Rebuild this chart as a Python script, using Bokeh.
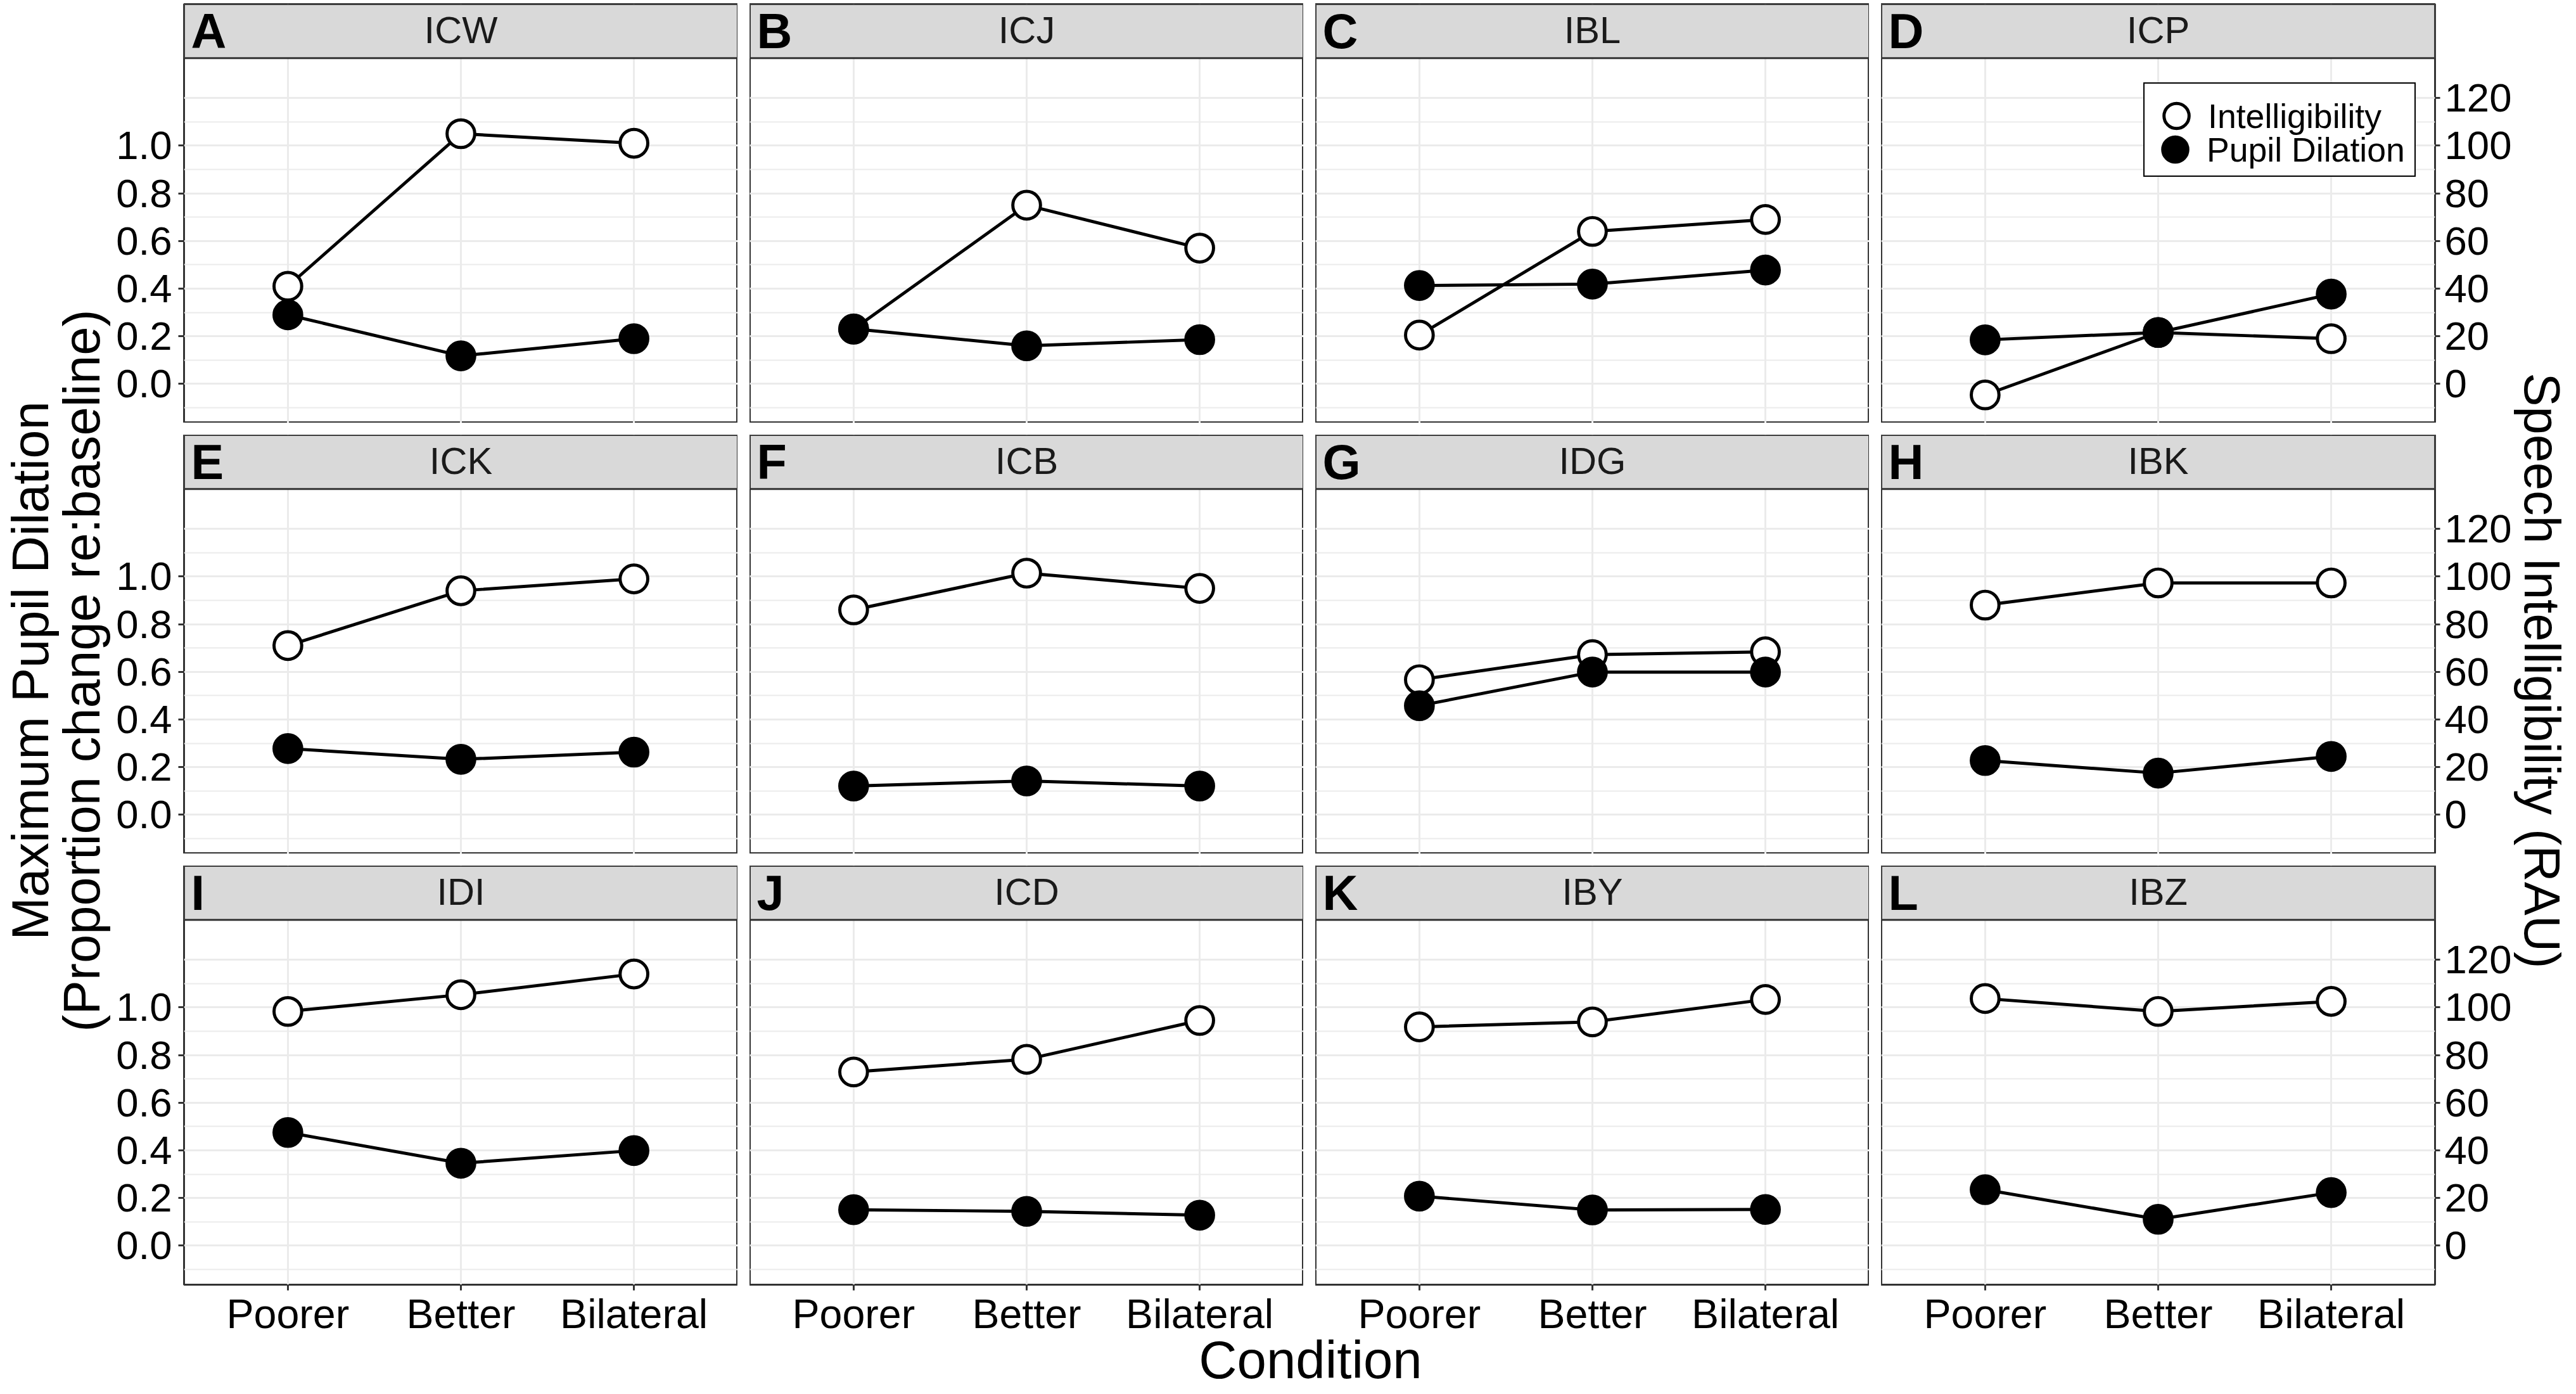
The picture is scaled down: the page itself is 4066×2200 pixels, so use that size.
import math
from bokeh.plotting import figure
from bokeh.models import (Range1d, FixedTicker, LinearAxis, BoxAnnotation, Label,
                          Legend, LegendItem, ColumnDataSource, NumeralTickFormatter)
from bokeh.layouts import row, column
from bokeh.embed import file_html
from bokeh.resources import INLINE

# ---------------- data ----------------
conditions = ["Poorer", "Better", "Bilateral"]
panel_letters = ["A", "B", "C", "D", "E", "F", "G", "H", "I", "J", "K", "L"]
participants = ["ICW", "ICJ", "IBL", "ICP", "ICK", "ICB", "IDG", "IBK", "IDI", "ICD", "IBY", "IBZ"]

# Speech intelligibility (RAU) per participant: Poorer, Better, Bilateral
intelligibility_rau = [
    [41.0, 105.0, 101.0],
    [23.0, 75.0, 57.0],
    [20.5, 64.0, 69.0],
    [-4.6, 21.6, 19.0],
    [71.0, 94.0, 99.0],
    [86.0, 101.4, 95.0],
    [56.7, 67.2, 68.4],
    [88.0, 97.3, 97.3],
    [98.3, 105.3, 114.0],
    [72.9, 78.2, 94.5],
    [91.8, 93.9, 103.3],
    [103.7, 98.3, 102.5],
]
# Maximum pupil dilation (proportion change re: baseline): Poorer, Better, Bilateral
pupil_dilation = [
    [0.290, 0.118, 0.190],
    [0.231, 0.160, 0.186],
    [0.413, 0.419, 0.478],
    [0.185, 0.216, 0.377],
    [0.278, 0.233, 0.263],
    [0.121, 0.142, 0.121],
    [0.458, 0.599, 0.599],
    [0.228, 0.175, 0.245],
    [0.475, 0.346, 0.399],
    [0.151, 0.144, 0.128],
    [0.208, 0.150, 0.152],
    [0.235, 0.111, 0.223],
]
left_ticks = [0.0, 0.2, 0.4, 0.6, 0.8, 1.0]
right_ticks = [0, 20, 40, 60, 80, 100, 120]
grid_major = [0.0, 0.2, 0.4, 0.6, 0.8, 1.0, 1.2]
grid_minor = [-0.1, 0.1, 0.3, 0.5, 0.7, 0.9, 1.1]

# ---------------- geometry ----------------
SX = 0.9955
SY = 0.9927
def PX(v):
    return int(round(v * SX))
def PY(v):
    return int(round(v * SY))
def F(v):
    return f"{v * SY:.1f}px"
def W(v):
    return v * SY

FONT = "Liberation Sans"
Y_LO, Y_PLOT_TOP, Y_HI = -0.1636, 1.3668, 1.5937
X_LO, X_HI = 0.4, 3.6
PXU_Y = 379.0
PXU_X = 274.4
xpos = [i + 1 for i in range(len(conditions))]

def style_axis(ax, tick_out, standoff, size):
    ax.axis_line_color = None
    ax.major_tick_line_color = "#333333"
    ax.major_tick_line_width = W(3)
    ax.major_tick_out = tick_out
    ax.major_tick_in = 0
    ax.minor_tick_line_color = None
    ax.major_label_standoff = standoff
    ax.major_label_text_font = FONT
    ax.major_label_text_font_size = F(size)
    ax.major_label_text_color = "black"

figs = []
for i, name in enumerate(participants):
    r, c = divmod(i, 4)
    p = figure(frame_width=PX(878), frame_height=PY(666),
               x_range=Range1d(X_LO, X_HI), y_range=Range1d(Y_LO, Y_HI),
               x_axis_location="below" if r == 2 else None,
               y_axis_location="left" if c == 0 else None,
               toolbar_location=None, output_backend="svg", tools="", min_border=0)
    p.extra_y_ranges = {"rau": Range1d(Y_LO * 100, Y_HI * 100)}
    p.min_border_left = PX(111) if c == 0 else 0
    p.min_border_right = PX(123) if c == 3 else 0
    p.min_border_top = PY(6) if r == 0 else 0
    p.min_border_bottom = PY(82) if r == 2 else 0
    p.background_fill_color = "white"
    p.border_fill_color = "white"
    p.outline_line_color = "#333333"
    p.outline_line_width = W(3)

    p.xgrid.ticker = FixedTicker(ticks=xpos)
    p.xgrid.grid_line_color = "#ebebeb"
    p.xgrid.grid_line_width = W(3)
    p.ygrid.ticker = FixedTicker(ticks=grid_major, minor_ticks=grid_minor)
    p.ygrid.grid_line_color = "#ebebeb"
    p.ygrid.grid_line_width = W(3)
    p.ygrid.minor_grid_line_color = "#ebebeb"
    p.ygrid.minor_grid_line_width = W(1.8)

    if c == 0:
        ax = p.yaxis[0]
        ax.ticker = FixedTicker(ticks=left_ticks)
        ax.formatter = NumeralTickFormatter(format="0.0")
        style_axis(ax, PX(9), PX(10), 64)
    if r == 2:
        ax = p.xaxis[0]
        ax.ticker = FixedTicker(ticks=xpos)
        ax.major_label_overrides = {x: lab for x, lab in zip(xpos, conditions)}
        style_axis(ax, PY(9), PY(1), 65)
    if c == 3:
        rax = LinearAxis(y_range_name="rau", ticker=FixedTicker(ticks=right_ticks))
        style_axis(rax, PX(8), PX(7), 64)
        p.add_layout(rax, "right")

    # strip header
    p.add_layout(BoxAnnotation(bottom=Y_PLOT_TOP, fill_color="#d9d9d9", fill_alpha=1.0,
                               line_color="#333333", line_alpha=1.0, line_width=W(3)))
    p.add_layout(Label(x=(X_LO + X_HI) / 2, y=Y_PLOT_TOP + 44.5 / PXU_Y, text=name,
                       text_align="center", text_baseline="middle",
                       text_font=FONT, text_font_size=F(60), text_color="#1a1a1a"))
    p.add_layout(Label(x=X_LO + 11 / PXU_X, y=Y_PLOT_TOP + 43.5 / PXU_Y, text=panel_letters[i],
                       text_align="left", text_baseline="middle",
                       text_font=FONT, text_font_size=F(78), text_font_style="bold",
                       text_color="black"))

    src = ColumnDataSource(dict(x=xpos, intel=intelligibility_rau[i], pupil=pupil_dilation[i]))
    p.line("x", "intel", source=src, y_range_name="rau", line_color="black", line_width=W(5))
    p.line("x", "pupil", source=src, line_color="black", line_width=W(5))
    ri = p.scatter("x", "intel", source=src, y_range_name="rau", size=W(44),
                   fill_color="white", line_color="black", line_width=W(5))
    rp = p.scatter("x", "pupil", source=src, size=W(44),
                   fill_color="black", line_color="black", line_width=W(5))

    if i == 3:
        common = dict(orientation="vertical", margin=0,
                      glyph_width=PX(100), glyph_height=PY(100), label_height=PY(100),
                      label_standoff=0, label_width=PX(327),
                      label_text_font=FONT, label_text_font_size=F(54), label_text_color="black")
        leg1 = Legend(items=[LegendItem(label="Intelligibility", renderers=[ri])],
                      location=(PX(416), PY(672 - 281)),
                      padding=dict(left=0, right=0, top=PY(1), bottom=PY(45)),
                      border_line_color="black", border_line_width=W(3), border_line_alpha=1.0,
                      background_fill_color="white", background_fill_alpha=1.0, **common)
        leg2 = Legend(items=[LegendItem(label="Pupil Dilation", renderers=[rp])],
                      location=(PX(416), PY(672 - 287)), padding=0,
                      border_line_color=None, background_fill_color=None, **common)
        p.add_layout(leg1)
        p.add_layout(leg2)
    figs.append(p)

grid_h = PY(6) + 3 * PY(666) + 2 * PY(19) + PY(82)

def text_fig(w, h):
    f = figure(frame_width=w, frame_height=h, x_range=Range1d(0, w), y_range=Range1d(h, 0),
               x_axis_location=None, y_axis_location=None, toolbar_location=None,
               output_backend="svg", tools="", min_border=0)
    f.grid.visible = False
    f.outline_line_color = None
    f.background_fill_alpha = 0.0
    f.border_fill_alpha = 0.0
    return f

lt = text_fig(PX(180), grid_h)
lt.add_layout(Label(x=PX(47), y=PY(1066), text="Maximum Pupil Dilation", angle=math.pi / 2,
                    text_align="center", text_baseline="middle", text_font=FONT,
                    text_font_size=F(82), text_color="black"))
lt.add_layout(Label(x=PX(129), y=PY(1066), text="(Proportion change re:baseline)", angle=math.pi / 2,
                    text_align="center", text_baseline="middle", text_font=FONT,
                    text_font_size=F(82), text_color="black"))

rt_w = PX(90)
rt = text_fig(rt_w, grid_h)
rt.add_layout(Label(x=45, y=PY(1066), text="Speech Intelligibility (RAU)", angle=-math.pi / 2,
                    text_align="center", text_baseline="middle", text_font=FONT,
                    text_font_size=F(80), text_color="black"))

total_w = PX(180) + PX(111) + 4 * PX(878) + 3 * PX(19) + PX(123) + rt_w

overlap = 16
try:
    bt = text_fig(total_w, 97)
    bt.margin = (-overlap, 0, 0, 0)
    cond_y, cond_size = 49.5, 84
except ValueError:
    bt = text_fig(total_w, PY(75))
    cond_y, cond_size = 36, 66
bt.add_layout(Label(x=PX(2077), y=cond_y, text="Condition", text_align="center",
                    text_baseline="middle", text_font=FONT, text_font_size=F(cond_size),
                    text_color="black"))

rows = [row(*figs[r * 4:(r + 1) * 4], spacing=PX(19)) for r in range(3)]
grid = column(*rows, spacing=PY(19))
page = column(row(lt, grid, rt), bt)

open("out.html", "w").write(file_html(page, INLINE))
